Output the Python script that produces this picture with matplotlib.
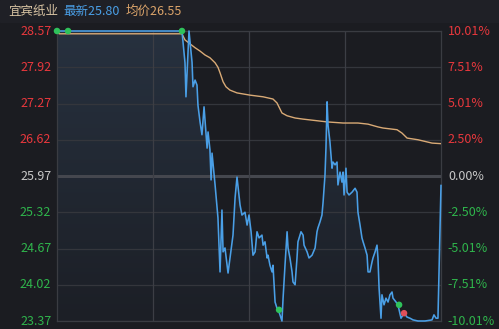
import matplotlib
matplotlib.use("Agg")
import matplotlib.pyplot as plt
import numpy as np
from matplotlib.patches import Polygon

plt.rcParams['font.family'] = ['Noto Sans CJK SC', 'DejaVu Sans']

# --- data (minutes since open, price) ---
stock_name = "宜宾纸业"
last_price = 25.80
avg_price_now = 26.55
prev_close = 25.97
price_ticks = [28.57, 27.92, 27.27, 26.62, 25.97, 25.32, 24.67, 24.02, 23.37]
pct_ticks = ["10.01%", "7.51%", "5.01%", "2.50%", "0.00%", "-2.50%", "-5.01%", "-7.51%", "-10.01%"]

price_t = [0, 78.1, 80, 80.6, 82.5, 84.4, 85, 86.3, 87.5, 88.1, 89.4, 90.6, 91.9, 93.8,
           94.4, 95.6, 96.3, 96.9, 98.8, 100.6, 101.9, 103.1, 103.8, 105, 106.9, 109.4,
           110, 111.3, 112.5, 114.4, 115.6, 117.5, 118.8, 120, 121.3, 122.5, 123.8, 125,
           126.3, 128.1, 128.8, 130, 131.3, 131.9, 133.1, 134.4, 135, 136.3, 137.5, 138.8,
           140.6, 141.3, 142.5, 143.8, 144.4, 145.6, 146.9, 147.5, 148.8, 150, 150.6,
           152.5, 153.8, 154.4, 156.3, 157.5, 159.4, 161.3, 162.5, 163.1, 164.4, 165.6,
           166.3, 167.5, 168.1, 168.8, 169.4, 170.6, 171.9, 172.5, 173.8, 175, 175.6,
           176.9, 178.1, 178.8, 179.4, 180.6, 181.3, 182.5, 184.4, 186.3, 187.5, 188.1,
           189.4, 190.6, 191.3, 192.5, 193.8, 194.4, 195.6, 196.9, 197.5, 198.8, 200,
           200.6, 201.3, 202.5, 203.1, 204.4, 205.6, 206.9, 208.1, 209.4, 210, 211.9,
           213.1, 215, 216.9, 218.8, 220.6, 222.5, 225.6, 230, 234.4, 235.6, 236.9,
           238.1, 240]
price_v = [28.57, 28.57, 28.00, 27.39, 28.57, 28.01, 27.57, 27.69, 27.60, 27.24, 26.94,
           26.71, 27.21, 26.47, 26.76, 26.44, 25.90, 26.38, 25.81, 25.22, 24.25, 25.36,
           24.61, 24.68, 24.23, 24.79, 24.91, 25.58, 25.95, 25.45, 25.27, 25.32, 25.09,
           25.27, 24.97, 24.55, 24.61, 24.97, 24.86, 24.91, 24.73, 24.79, 24.50, 24.55,
           24.37, 24.25, 24.37, 23.71, 23.60, 23.53, 23.37, 23.78, 24.37, 24.97, 24.68,
           24.50, 24.25, 24.07, 24.02, 24.50, 24.79, 24.97, 24.91, 24.73, 24.61, 24.50,
           24.55, 24.68, 24.97, 25.04, 25.15, 25.27, 25.50, 25.99, 26.47, 27.30, 26.88,
           26.58, 26.11, 26.22, 26.17, 26.22, 25.81, 26.04, 25.86, 26.04, 25.63, 26.11,
           25.68, 25.63, 25.68, 25.75, 25.68, 25.32, 25.09, 24.86, 24.79, 24.68, 24.55,
           24.25, 24.25, 24.43, 24.50, 24.61, 24.73, 24.50, 23.96, 23.42, 23.84, 23.66,
           23.78, 23.71, 23.84, 23.89, 23.78, 23.71, 23.66, 23.42, 23.51, 23.44, 23.42,
           23.39, 23.37, 23.37, 23.39, 23.48, 23.42, 23.42, 25.80]

avg_t = [0, 1.3, 78.1, 80, 83.1, 86.3, 89.4, 92.5, 95.6, 98.8, 100.6, 101.9, 103.8, 105.6,
         108.1, 112.5, 120.6, 128.8, 135, 137.5, 140.6, 143.8, 148.8, 153.8, 168.8, 178.8,
         188.1, 194.4, 200.6, 203.8, 212.5, 215.6, 218.8, 225.6, 234.4, 240]
avg_v = [28.57, 28.52, 28.52, 28.41, 28.34, 28.27, 28.21, 28.14, 28.09, 28.00, 27.92,
         27.82, 27.66, 27.57, 27.51, 27.46, 27.42, 27.39, 27.35, 27.28, 27.10, 27.05,
         27.01, 26.99, 26.94, 26.92, 26.92, 26.90, 26.85, 26.83, 26.80, 26.74, 26.65,
         26.62, 26.56, 26.55]

sig_t = [0, 6.9, 78.1, 138.8, 213.8, 216.9]
sig_v = [28.57, 28.57, 28.57, 23.57, 23.66, 23.51]
sig_c = ["#2fc25b", "#2fc25b", "#2fc25b", "#2fc25b", "#2fc25b", "#e0505a"]

bg = "#1b1c21"
fig = plt.figure(figsize=(4.99, 3.29), dpi=100, facecolor=bg)
ax = fig.add_axes([57 / 499, 8 / 329, 384 / 499, 290 / 329])
ax.set_facecolor(bg)
ymin, ymax = price_ticks[-1], price_ticks[0]
ax.set_xlim(0, 240)
ax.set_ylim(ymin, ymax)

# grid
for p in price_ticks:
    if p == prev_close:
        ax.axhline(p, color="#45474e", lw=2.2, zorder=1)
    else:
        ax.axhline(p, color="#34363c", lw=0.9, zorder=1)
for t in (60, 120, 180):
    ax.axvline(t, color="#3c3e45", lw=0.9, zorder=1)
for s in ax.spines.values():
    s.set_color("#3a3c42")
    s.set_linewidth(0.9)

# gradient fill under price line
grad = np.linspace(0, 1, 256).reshape(-1, 1)
cmap = matplotlib.colors.LinearSegmentedColormap.from_list("g", ["#1c1f26", "#27313f"])
im = ax.imshow(grad, extent=[0, 240, ymin, ymax], origin="lower", aspect="auto",
               cmap=cmap, zorder=0.5)
verts = [(0, ymin)] + list(zip(price_t, price_v)) + [(240, ymin)]
clip = Polygon(verts, closed=True, transform=ax.transData, facecolor="none", edgecolor="none")
ax.add_patch(clip)
im.set_clip_path(clip)

ax.plot(avg_t, avg_v, color="#d9aa76", lw=1.0, zorder=3)
ax.plot(price_t, price_v, color="#4a9fe6", lw=1.15, zorder=4, clip_on=False)
ax.scatter(sig_t, sig_v, s=22, c=sig_c, zorder=5, linewidths=0, clip_on=False)

ax.set_xticks([])
ax.set_yticks([])

# left / right labels
for p, lab in zip(price_ticks, pct_ticks):
    if p > prev_close + 1e-6:
        c = "#e8383d"
    elif p < prev_close - 1e-6:
        c = "#2fb54c"
    else:
        c = "#c8c8c8"
    ax.text(-0.015, p, f"{p:.2f}", transform=ax.get_yaxis_transform(), ha="right",
            va="center", fontsize=9, color=c)
    ax.text(1.018, p, lab, transform=ax.get_yaxis_transform(), ha="left",
            va="center", fontsize=9, color=c)

# header
fig.patches.append(matplotlib.patches.Rectangle((0, 1 - 22 / 329), 1, 22 / 329,
                   transform=fig.transFigure, color="#1f2026", zorder=0))
fig.text(8 / 499, 1 - 11 / 329, stock_name, color="#d7c3a2", fontsize=9, va="center")
fig.text(63 / 499, 1 - 11 / 329, f"最新{last_price:.2f}", color="#4a9fe6", fontsize=9, va="center")
fig.text(126 / 499, 1 - 11 / 329, f"均价{avg_price_now:.2f}", color="#dba46a", fontsize=9, va="center")

fig.savefig("out.png", dpi=100, facecolor=bg)
